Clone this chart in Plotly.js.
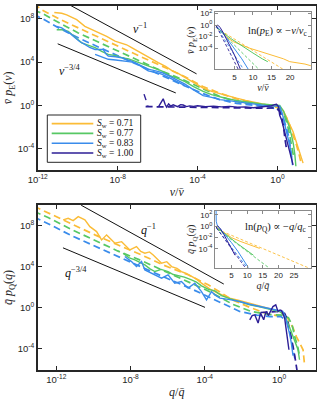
<!DOCTYPE html>
<html><head><meta charset="utf-8">
<script src="https://cdn.plot.ly/plotly-3.0.1.min.js"></script>
<style>html,body{margin:0;padding:0;background:#fff}#chart{width:328px;height:400px}</style>
</head><body><div id="chart"></div>
<script>
// ---------- DATA (log10 values) ----------
const swLabels = ['0.71', '0.77', '0.83', '1.00'];

// Top panel: v / vbar  (log10 x, log10 y)
const E71s_x = [-11.17,-10.8,-10.55,-10.3,-10.05,-9.64,-9.35,-9.05,-8.8,-8.55,-8.13,-7.8,-7.55,-7.3,-6.95,-6.63,-6.3,-5.97,-5.6,-5.3,-4.95,-4.6,-4.2,-3.72,-3.3,-2.88,-2.45,-2.05,-1.6,-1.22,-0.8,-0.38,-0.1,0.11,0.3,0.45,0.6,0.78,0.9,1.03,1.15,1.28];
const E71s_y = [8.57,8.5,8.36,8.15,7.91,7.30,7.05,6.84,6.6,6.38,5.93,5.78,5.6,5.33,4.95,4.6,4.3,3.96,3.6,3.25,2.95,2.55,2.1,1.6,1.3,1.07,0.88,0.68,0.48,0.31,0.15,0.0,-0.08,-0.14,-0.5,-1.05,-1.7,-2.42,-3.1,-3.94,-4.6,-5.31];
const E71d_x = [-12.2,-11.8,-10.9,-9.97,-8.97,-7.97,-6.9,-5.8,-4.63,-3.73,-2.9,-2.05,-1.2,-0.38,0.0,0.28,0.45,0.61,0.78,0.95,1.08,1.2];
const E71d_y = [9.4,8.82,7.95,7.15,6.3,5.47,4.55,3.65,2.65,1.75,1.15,0.61,0.25,0.0,-0.2,-0.6,-1.1,-1.82,-2.7,-3.64,-4.5,-5.47];
const E77s_x = [-11.05,-10.75,-10.47,-10.15,-9.8,-9.45,-9.13,-8.8,-8.47,-8.1,-7.8,-7.45,-7.13,-6.8,-6.47,-6.1,-5.8,-5.38,-5.0,-4.63,-4.2,-3.72,-3.3,-2.88,-2.45,-2.05,-1.6,-1.2,-0.8,-0.38,0.11,0.3,0.45,0.58,0.7,0.8,0.87,0.92];
const E77s_y = [6.99,7.0,6.84,6.3,5.78,5.55,5.33,5.0,4.72,4.6,4.41,4.3,4.1,3.9,3.65,3.4,3.19,2.75,2.5,2.2,1.75,1.3,1.0,0.78,0.6,0.46,0.33,0.22,0.14,0.07,0.0,-0.5,-1.21,-1.9,-2.73,-3.6,-4.55,-5.6];
const E77d_x = [-12.2,-11.8,-10.9,-9.97,-8.97,-7.97,-6.9,-5.8,-4.63,-3.72,-2.9,-2.05,-1.2,-0.38,0.1,0.37,0.5,0.61,0.72,0.82];
const E77d_y = [8.78,8.52,7.6,6.69,5.85,5.02,4.1,3.19,2.3,1.5,0.85,0.35,0.1,-0.05,-0.3,-1.05,-1.8,-2.73,-3.8,-4.85];
const E83s_x = [-11.05,-10.8,-10.55,-10.35,-10.13,-9.9,-9.64,-9.4,-9.13,-8.9,-8.72,-8.6,-8.47,-8.1,-7.8,-7.5,-7.3,-6.96,-6.7,-6.47,-6.1,-5.8,-5.45,-5.13,-4.63,-4.2,-3.72,-3.3,-2.88,-2.45,-2.05,-1.6,-1.2,-0.8,-0.38,0.11,0.25,0.37,0.5,0.61,0.7,0.75];
const E83s_y = [7.3,7.15,6.84,6.6,6.24,5.9,5.63,5.35,5.17,5.2,5.17,4.8,4.56,4.5,4.41,4.2,4.1,3.8,3.6,3.35,3.2,3.05,2.75,2.44,1.98,1.45,0.92,0.75,0.55,0.45,0.36,0.22,0.1,0.02,-0.05,-0.05,-0.8,-1.82,-2.8,-3.64,-4.6,-5.5];
const E83b_x = [-9.13,-8.8,-8.47,-8.1,-7.8,-7.45,-7.13,-6.8,-6.47,-6.1,-5.8,-5.45,-5.13,-4.85,-4.63];
const E83b_y = [4.72,4.5,4.26,4.2,4.1,4.05,3.96,3.55,3.19,3.05,2.89,2.6,2.29,2.05,1.83];
const E83d_x = [-12.2,-11.8,-10.9,-9.97,-8.97,-7.97,-6.9,-5.8,-4.63,-3.72,-2.9,-2.05,-1.2,-0.38,0.1,0.3,0.45,0.58,0.72];
const E83d_y = [8.4,8.05,7.1,6.24,5.4,4.56,3.65,2.75,1.8,1.1,0.55,0.2,0.0,-0.15,-0.4,-1.2,-2.1,-3.0,-5.0];
const E100s_x = [-6.68,-6.62,-6.58,null,-6.55,-6.45,null,-5.95,-5.85,-5.72,-5.62,-5.55,-5.45,-5.35,-5.22,-5.1,-5.0,-4.85,-4.72,-4.55,-4.4,-4.2,-4.0,-3.6,-3.2,-2.8,-2.4,-2.0,-1.6,-1.2,-0.8,-0.5,-0.3,-0.15,-0.05,0.05,0.11,0.2,0.28,0.37,0.45,0.55,0.62,0.7,0.78];
const E100s_y = [1.05,0.75,0.5,null,-0.05,-0.05,null,-0.1,0.25,0.62,0.1,-0.14,0.15,-0.05,0.07,-0.05,-0.1,0.08,0.05,-0.1,-0.03,-0.08,-0.02,-0.1,-0.05,-0.12,-0.08,-0.15,-0.12,-0.2,-0.15,-0.1,-0.02,0.08,0.12,-0.1,-0.9,-1.3,-1.9,-2.5,-3.03,-3.7,-4.3,-4.9,-5.47];
const E100d_x = [-6.6,-5,-3.5,-2,-1,-0.5,-0.1,0.1,0.2,0.3,0.37,0.45];
const E100d_y = [-0.1,-0.15,-0.15,-0.2,-0.25,-0.25,-0.2,-0.5,-1.0,-1.9,-3.03,-4.0];

// Bottom panel: q / qbar  (log10 x, log10 y)
const Q71s_x = [-11.63,-11.36,-11.09,-10.82,-10.46,-10.19,-9.83,-9.56,-9.29,-9.05,-8.84,-8.48,-8.25,-8.04,-7.68,-7.45,-7.23,-6.98,-6.78,-6.55,-6.33,-6.05,-5.79,-5.5,-5.26,-5.0,-4.72,-4.45,-4.18,-3.7,-3.2,-2.66,-2.1,-1.58,-1.1,-0.68,-0.3,0.03,0.25];
const Q71s_y = [8.52,8.68,8.45,8.84,8.52,7.86,7.38,6.57,7.06,6.6,6.25,6.4,5.95,5.6,5.92,5.45,5.28,5.4,5.11,4.7,4.3,4.45,3.97,3.8,3.49,3.3,3.0,2.75,2.36,1.75,1.3,0.9,0.65,0.41,0.18,-0.07,-0.25,-0.4,-0.7];
const Q71d_x = [-13.2,-12.44,-11.2,-9.92,-8.7,-7.41,-6.2,-4.9,-3.82,-3.0,-2.48,-1.58,-0.68,0.0,0.3,0.48,0.6,0.75,0.93,1.1,1.29,1.38];
const Q71d_y = [9.85,9.2,8.1,7.06,6.1,5.11,4.1,3.17,2.2,1.3,0.7,0.0,-0.6,-0.85,-0.9,-1.1,-1.5,-2.0,-2.84,-3.4,-4.13,-5.75];
const Q77s_x = [-8.4,-8.1,-7.77,-7.5,-7.23,-6.95,-6.69,-6.35,-5.98,-5.7,-5.44,-5.1,-4.72,-4.45,-4.18,-3.8,-3.46,-3.1,-2.66,-2.1,-1.58,-1.05,-0.5,0.03,0.3,0.48,0.62,0.75,0.9,1.02,1.1];
const Q77s_y = [5.27,4.85,4.62,4.4,4.14,3.75,3.49,3.7,3.49,3.2,3.07,2.95,2.68,2.45,2.1,1.75,1.6,1.15,0.85,0.5,0.25,0.05,-0.17,-0.4,-0.8,-1.53,-2.2,-2.84,-3.5,-4.13,-5.1];
const Q77d_x = [-13.2,-12.44,-11.2,-9.92,-8.7,-7.41,-6.2,-4.9,-3.82,-3.0,-2.5,-1.5,-0.5,0.2,0.5,0.7,0.84,1.0,1.11];
const Q77d_y = [9.35,8.75,7.6,6.5,5.5,4.55,3.55,2.55,1.6,0.8,0.3,-0.4,-0.7,-0.75,-1.0,-1.7,-2.84,-3.8,-4.77];
const Q83s_x = [-8.31,-7.95,-7.68,-7.41,-7.23,-6.95,-6.69,-6.33,-5.98,-5.62,-5.26,-4.9,-4.54,-4.18,-3.91,-3.64,-3.46,-3.19,-2.65,-2.12,-1.6,-1.04,-0.6,-0.14,0.2,0.35,0.48,0.58,0.66,0.75];
const Q83s_y = [4.95,4.46,3.97,4.46,3.65,3.4,3.17,2.84,3.17,2.36,2.52,1.87,2.36,1.54,0.73,1.54,1.22,0.9,0.75,0.57,0.3,0.08,-0.08,-0.24,-0.4,-1.0,-1.83,-2.7,-3.48,-4.7];
const Q83d_x = [-13.2,-12.44,-11.2,-9.92,-8.7,-7.41,-6.2,-4.9,-3.82,-3.0,-2.12,-1.2,-0.5,0.1,0.4,0.57,0.7,0.85];
const Q83d_y = [8.8,8.15,7.0,5.95,4.95,3.97,2.95,1.95,1.05,0.3,-0.4,-0.75,-0.9,-0.9,-1.3,-2.3,-3.5,-5.0];
const Q100s_x = [-1.58,-1.45,-1.31,-1.2,-1.13,-1.0,-0.9,-0.83,-0.75,-0.68,-0.58,-0.5,-0.42,-0.33,-0.18,-0.06,0.05,0.13,0.22,0.3,0.37,0.43,0.53];
const Q100s_y = [-1.21,-0.8,-0.73,-1.3,-1.53,-0.56,-0.9,-1.21,-0.7,-0.4,-0.8,-0.56,-0.3,0.08,0.25,-0.4,-0.25,-0.31,-0.7,-1.05,-2.0,-2.84,-4.13];
const Q100d_x = [-1.0,-0.5,0.0,0.3,0.45,0.55,0.65,0.75,0.85,0.97];
const Q100d_y = [-0.5,-0.45,-0.4,-0.6,-1.2,-2.0,-2.8,-3.8,-4.8,-6.2];

// Power-law guide lines (log10 endpoints)
const guideE1_x = [-10.33, -4.05],  guideE1_y = [9.2, 2.92];
const guideE34_x = [-11, -5.09],    guideE34_y = [5.69, 1.16];
const guideQ1_x = [-10.66, -2.98],  guideQ1_y = [9.95, 2.27];
const guideQ34_x = [-11.64, -3.99], guideQ34_y = [5.8, 0.0];

// Insets: linear x, log10 y
const iE71s_x = [0.2,0.8,1.6,3,4.7,7,9.2,11.5,13.7,16,18.2,19.9,21,22.6,24,25.6];
const iE71s_y = [-0.3,-0.7,-1.15,-2.1,-2.86,-3.5,-4.0,-4.45,-4.86,-5.3,-5.8,-6.29,-6.4,-6.46,-6.7,-7.0];
const iE71d_x = [0.2, 18.0],  iE71d_y = [-0.5, -7.55];
const iE77s_x = [0.2,1.6,4,7,10,12.5,14], iE77s_y = [-0.3,-1.15,-2.3,-3.6,-4.8,-5.8,-6.3];
const iE77d_x = [0.2, 11.5],  iE77d_y = [-0.4, -7.55];
const iE83s_x = [0.2,1.1,3,5,7,8.7], iE83s_y = [-0.2,-0.8,-2.3,-4.0,-5.8,-7.55];
const iE83d_x = [0.2, 7.4],   iE83d_y = [-0.3, -7.55];
const iE100s_x = [0.1,0.4,0.8,1.2,2,3.5,5,6.6], iE100s_y = [-0.4,0.0,-0.15,-0.45,-1.3,-3.2,-5.1,-7.55];
const iE100d_x = [0.2, 6.0],  iE100d_y = [-0.2, -7.55];

const iQ71s_x = [0.2,1,2.5,5,8,11,14], iQ71s_y = [-0.2,-0.5,-1.2,-2.0,-2.7,-3.3,-3.9];
const iQ71d_x = [0.5, 29.5],  iQ71d_y = [-0.55, -7.3];
const iQ77s_x = [0.2,1.5,4,7,10,12], iQ77s_y = [-0.2,-0.7,-1.8,-3.1,-4.3,-5.1];
const iQ77d_x = [0.5, 16.9],  iQ77d_y = [-0.5, -7.3];
const iQ83s_x = [0.05,0.1,0.4,1.3,3,5,7,9,10.4], iQ83s_y = [3.0,0.9,0.2,-0.4,-1.5,-2.9,-4.4,-6.0,-7.3];
const iQ83d_x = [0.2, 10.0],  iQ83d_y = [-0.3, -7.3];
const iQ100s_x = [0.1,0.5,1,1.5,2.5,4,6.1], iQ100s_y = [-0.3,0.1,-0.2,-0.5,-1.4,-3.0,-5.1];
const iQ100d_x = [0.2, 9.4],  iQ100d_y = [-0.3, -7.3];

const mainTickVals = [-12, -8, -4, 0];
const mainYTickVals = [-4, 0, 4, 8];
const insetYTickVals = [-4, -2, 0, 2];
const insetEXTicks = [5, 10, 15, 20];
const insetQXTicks = [5, 10, 15, 20, 25];

// ---------- STYLE ----------
const COL = ['#FBBC37', '#57C864', '#3A8CEB', '#2D1E96'];
const DASH = '7px,4px';
const p10 = a => a.map(v => v === null ? null : Math.pow(10, v));
const pw = e => '10<sup>' + e + '</sup>';

function tr(xs, ys, color, dash, width, xa, ya, logx) {
  return { x: logx ? p10(xs) : xs, y: p10(ys), mode: 'lines', xaxis: xa, yaxis: ya,
    line: { color: color, width: width, dash: dash }, showlegend: false, hoverinfo: 'skip' };
}

const traces = [];
const Eset = [[E71s_x,E71s_y,E71d_x,E71d_y],[E77s_x,E77s_y,E77d_x,E77d_y],[E83s_x,E83s_y,E83d_x,E83d_y],[E100s_x,E100s_y,E100d_x,E100d_y]];
const Qset = [[Q71s_x,Q71s_y,Q71d_x,Q71d_y],[Q77s_x,Q77s_y,Q77d_x,Q77d_y],[Q83s_x,Q83s_y,Q83d_x,Q83d_y],[Q100s_x,Q100s_y,Q100d_x,Q100d_y]];
const iEset = [[iE71s_x,iE71s_y,iE71d_x,iE71d_y],[iE77s_x,iE77s_y,iE77d_x,iE77d_y],[iE83s_x,iE83s_y,iE83d_x,iE83d_y],[iE100s_x,iE100s_y,iE100d_x,iE100d_y]];
const iQset = [[iQ71s_x,iQ71s_y,iQ71d_x,iQ71d_y],[iQ77s_x,iQ77s_y,iQ77d_x,iQ77d_y],[iQ83s_x,iQ83s_y,iQ83d_x,iQ83d_y],[iQ100s_x,iQ100s_y,iQ100d_x,iQ100d_y]];

traces.push(tr(guideE1_x, guideE1_y, '#111', 'solid', 1, 'x', 'y', true));
traces.push(tr(guideE34_x, guideE34_y, '#111', 'solid', 1, 'x', 'y', true));
traces.push(tr(guideQ1_x, guideQ1_y, '#111', 'solid', 1, 'x2', 'y2', true));
traces.push(tr(guideQ34_x, guideQ34_y, '#111', 'solid', 1, 'x2', 'y2', true));

for (let i = 0; i < 4; i++) {
  traces.push(tr(Eset[i][2], Eset[i][3], COL[i], DASH, 1.7, 'x', 'y', true));
  traces.push(tr(Qset[i][2], Qset[i][3], COL[i], DASH, 1.7, 'x2', 'y2', true));
}
traces.push(tr(E83b_x, E83b_y, COL[2], 'solid', 1.4, 'x', 'y', true));
for (let i = 0; i < 4; i++) {
  traces.push(tr(Eset[i][0], Eset[i][1], COL[i], 'solid', 1.4, 'x', 'y', true));
  traces.push(tr(Qset[i][0], Qset[i][1], COL[i], 'solid', 1.4, 'x2', 'y2', true));
}
for (let i = 0; i < 4; i++) {
  traces.push(tr(iEset[i][2], iEset[i][3], COL[i], '3px,2px', 0.9, 'x3', 'y3', false));
  traces.push(tr(iQset[i][2], iQset[i][3], COL[i], '3px,2px', 0.9, 'x4', 'y4', false));
  traces.push(tr(iEset[i][0], iEset[i][1], COL[i], 'solid', 1, 'x3', 'y3', false));
  traces.push(tr(iQset[i][0], iQset[i][1], COL[i], 'solid', 1, 'x4', 'y4', false));
}

const tickFont = { family: 'Liberation Sans, Arial, sans-serif', size: 9.5, color: '#262626' };
const insetTickFont = { family: 'Liberation Sans, Arial, sans-serif', size: 8, color: '#262626' };
const serif = 'Liberation Serif, DejaVu Serif, serif';

function mainAx(extra) {
  return Object.assign({ showgrid: false, zeroline: false, showline: true, mirror: 'ticks',
    linecolor: '#262626', linewidth: 1.6, ticks: 'inside', ticklen: 4, tickwidth: 1,
    tickcolor: '#262626', tickfont: tickFont }, extra);
}
function insetAx(extra) {
  return Object.assign({ showgrid: false, zeroline: false, showline: true, mirror: 'ticks',
    linecolor: '#8a8a8a', linewidth: 1, ticks: 'inside', ticklen: 3, tickwidth: 1,
    tickcolor: '#8a8a8a', tickfont: insetTickFont }, extra);
}

const X1 = [0.115, 0.963];
const layout = {
  width: 328, height: 400, margin: { l: 0, r: 0, t: 0, b: 0 },
  paper_bgcolor: '#fff', plot_bgcolor: '#fff', showlegend: false,
  xaxis: mainAx({ type: 'log', domain: X1, anchor: 'y', range: [-12, 1.92],
    tickvals: p10(mainTickVals), ticktext: mainTickVals.map(pw),
    title: { text: '<i>v</i>/<i>v̄</i>', font: { family: serif, size: 12, color: '#262626' }, standoff: 3 } }),
  yaxis: mainAx({ type: 'log', domain: [0.575, 0.986], anchor: 'x', range: [-5.94, 9.21],
    tickvals: p10(mainYTickVals), ticktext: mainYTickVals.map(pw),
    title: { text: '<i>v̄ p</i><sub>E</sub>(<i>v</i>)', font: { family: serif, size: 12, color: '#262626' }, standoff: 2 } }),
  xaxis2: mainAx({ type: 'log', domain: X1, anchor: 'y2', range: [-13, 1.98],
    tickvals: p10(mainTickVals), ticktext: mainTickVals.map(pw),
    title: { text: '<i>q</i>/<i>q̄</i>', font: { family: serif, size: 12, color: '#262626' }, standoff: 3 } }),
  yaxis2: mainAx({ type: 'log', domain: [0.075, 0.4875], anchor: 'x2', range: [-6.1, 9.97],
    tickvals: p10(mainYTickVals), ticktext: mainYTickVals.map(pw),
    title: { text: '<i>q̄ p</i><sub>Q</sub>(<i>q</i>)', font: { family: serif, size: 12, color: '#262626' }, standoff: 2 } }),
  xaxis3: insetAx({ domain: [0.6555, 0.948], anchor: 'y3', range: [-0.2, 25.6], tickvals: insetEXTicks,
    title: { text: '<i>v</i>/<i>v̄</i>', font: { family: serif, size: 10, color: '#262626' }, standoff: 1 } }),
  yaxis3: insetAx({ type: 'log', domain: [0.8275, 0.971], anchor: 'x3', range: [-7.55, 2.3],
    tickvals: p10(insetYTickVals), ticktext: insetYTickVals.map(pw),
    title: { text: '<i>v̄ p</i><sub>E</sub>(<i>v</i>)', font: { family: serif, size: 10, color: '#262626' }, standoff: 1 } }),
  xaxis4: insetAx({ domain: [0.6555, 0.948], anchor: 'y4', range: [-0.3, 30.4], tickvals: insetQXTicks,
    title: { text: '<i>q</i>/<i>q̄</i>', font: { family: serif, size: 10, color: '#262626' }, standoff: 1 } }),
  yaxis4: insetAx({ type: 'log', domain: [0.33075, 0.4725], anchor: 'x4', range: [-7.3, 2.7],
    tickvals: p10(insetYTickVals), ticktext: insetYTickVals.map(pw),
    title: { text: '<i>q̄ p</i><sub>Q</sub>(<i>q</i>)', font: { family: serif, size: 10, color: '#262626' }, standoff: 1 } }),
  annotations: [],
  shapes: []
};

const A = (text, px, py, size, anchor) => ({ text: text, xref: 'paper', yref: 'paper',
  x: px / 328, y: 1 - py / 400, xanchor: anchor || 'center', yanchor: 'middle', showarrow: false,
  borderpad: 0, font: { family: serif, size: size, color: '#111' } });

layout.annotations.push(A('<i>v</i><sup>−1</sup>', 140, 28, 12));
layout.annotations.push(A('<i>v</i><sup>−3/4</sup>', 70, 70, 12));
layout.annotations.push(A('<i>q</i><sup>−1</sup>', 148, 230, 12));
layout.annotations.push(A('<i>q</i><sup>−3/4</sup>', 76, 272, 12));
layout.annotations.push(A('ln(<i>p</i><sub>E</sub>) ∝ −<i>v</i>/<i>v</i><sub>c</sub>', 277, 32, 10.5));
layout.annotations.push(A('ln(<i>p</i><sub>Q</sub>) ∝ −<i>q</i>/<i>q</i><sub>c</sub>', 275, 228, 10.5));

// manual legend (top panel)
layout.shapes.push({ type: 'rect', xref: 'paper', yref: 'paper', x0: 47.3/328, x1: 140.7/328,
  y0: 1 - 162.3/400, y1: 1 - 115/400, fillcolor: '#fff', line: { color: '#262626', width: 1 }, layer: 'above' });
const legPy = [123.6, 133.4, 143.2, 153];
for (let i = 0; i < 4; i++) {
  layout.shapes.push({ type: 'line', xref: 'paper', yref: 'paper', x0: 51.7/328, x1: 93.3/328,
    y0: 1 - legPy[i]/400, y1: 1 - legPy[i]/400, line: { color: COL[i], width: 1.6 }, layer: 'above' });
  layout.annotations.push(A('<i>S</i><sub>w</sub> = ' + swLabels[i], 96, legPy[i], 9.5, 'left'));
}

Plotly.newPlot('chart', traces, layout, { staticPlot: true, displayModeBar: false });
</script>
</body></html>
